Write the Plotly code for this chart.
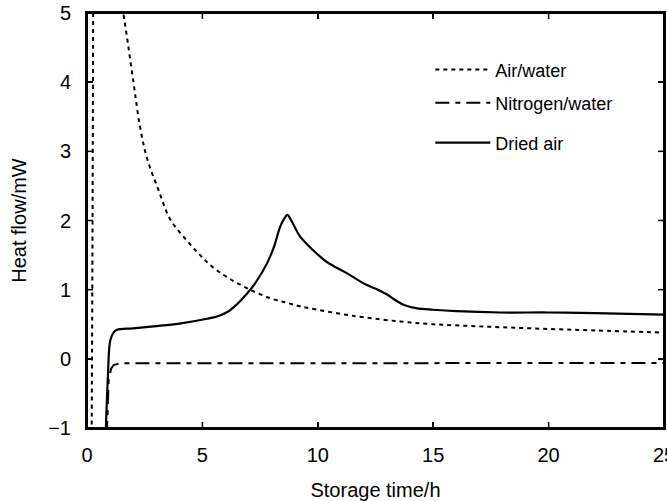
import plotly.graph_objects as go

# Air/water (dotted): vertical spike near t=0, then decaying branch (gap = off-scale)
air_t = [0.20, 0.24, 0.27, None, 1.45, 1.57, 2.0, 2.3, 2.6, 3.1, 3.6, 4.3, 4.9, 5.4, 6.07, 7.06, 8.0, 8.67, 9.23, 10.0, 11.0, 12.0, 13.56, 15.0, 17.0, 19.3, 22.0, 25.0]
air_y = [-1.3, 2.0, 5.6, None, 5.2, 5.0, 4.03, 3.35, 2.9, 2.44, 2.02, 1.72, 1.5, 1.34, 1.18, 1.0, 0.87, 0.81, 0.76, 0.71, 0.65, 0.60, 0.54, 0.50, 0.47, 0.44, 0.41, 0.38]

# Nitrogen/water (dash-dot)
n2_t = [0.86, 0.94, 1.05, 1.15, 1.45, 3.0, 6.0, 10.0, 15.0, 20.0, 25.0]
n2_y = [-1.1, -0.30, -0.14, -0.09, -0.065, -0.065, -0.07, -0.06, -0.065, -0.065, -0.06]

# Dried air (solid)
dry_t = [0.81, 0.90, 1.01, 1.15, 1.30, 2.0, 2.89, 4.0, 5.2, 5.7, 6.1, 6.5, 6.9, 7.3, 7.8, 8.1, 8.36, 8.55, 8.68, 8.85, 9.23, 9.8, 10.39, 11.2, 12.1, 12.6, 13.0, 13.4, 13.8, 14.3, 15.0, 16.0, 17.9, 20.0, 22.0, 25.0]
dry_y = [-1.1, -0.3, 0.27, 0.38, 0.42, 0.44, 0.47, 0.51, 0.58, 0.62, 0.68, 0.79, 0.93, 1.10, 1.38, 1.62, 1.90, 2.03, 2.08, 2.0, 1.77, 1.57, 1.40, 1.25, 1.07, 1.0, 0.93, 0.84, 0.77, 0.73, 0.71, 0.69, 0.67, 0.67, 0.66, 0.64]

x_ticks = [0, 5, 10, 15, 20, 25]
y_ticks = [-1, 0, 1, 2, 3, 4, 5]
x_range = [0, 25]
y_range = [-1, 5]

FONT = "Liberation Sans, Arial, sans-serif"
W, H = 667, 501
ML, MR, MT, MB = 87, 3, 13, 73
TICK_PX = 6

fig = go.Figure()
fig.add_trace(go.Scatter(x=air_t, y=air_y, mode="lines", name="Air/water",
                         line=dict(color="black", width=2, dash="4px,4px"),
                         line_shape="spline", connectgaps=False,
                         legend="legend", showlegend=True))
fig.add_trace(go.Scatter(x=n2_t, y=n2_y, mode="lines", name="Nitrogen/water",
                         line=dict(color="black", width=2, dash="14px,6px,5px,6px"),
                         legend="legend2", showlegend=True))
fig.add_trace(go.Scatter(x=dry_t, y=dry_y, mode="lines", name="Dried air",
                         line=dict(color="black", width=2.2),
                         line_shape="spline", legend="legend3", showlegend=True))

# Frame and inside ticks on all four sides (drawn as layout shapes from the tick lists)
fx = TICK_PX / (W - ML - MR)
fy = TICK_PX / (H - MT - MB)
frame_line = dict(color="black", width=2)
tick_line = dict(color="black", width=1.5)
fig.add_shape(type="rect", xref="paper", yref="paper", x0=0, x1=1, y0=0, y1=1,
              line=frame_line, fillcolor="rgba(0,0,0,0)", opacity=1, layer="above")
for xv in x_ticks:
    fig.add_shape(type="line", xref="x", yref="paper", x0=xv, x1=xv, y0=0, y1=fy,
                  line=tick_line, opacity=1, layer="above")
    fig.add_shape(type="line", xref="x", yref="paper", x0=xv, x1=xv, y0=1 - fy, y1=1,
                  line=tick_line, opacity=1, layer="above")
for yv in y_ticks:
    fig.add_shape(type="line", xref="paper", yref="y", x0=0, x1=fx, y0=yv, y1=yv,
                  line=tick_line, opacity=1, layer="above")
    fig.add_shape(type="line", xref="paper", yref="y", x0=1 - fx, x1=1, y0=yv, y1=yv,
                  line=tick_line, opacity=1, layer="above")

leg_common = dict(font=dict(family=FONT, size=18, color="black"),
                  bgcolor="rgba(0,0,0,0)", xanchor="left", yanchor="middle",
                  itemwidth=55, visible=True)

axis_common = dict(ticks="inside", ticklen=TICK_PX, tickwidth=1.5, tickcolor="black",
                   showline=True, linecolor="black", linewidth=2,
                   showgrid=False, zeroline=False, automargin=False,
                   ticklabeloverflow="allow", mirror="ticks",
                   tickfont=dict(size=20, family=FONT, color="black"))

fig.update_layout(
    template="simple_white",
    width=W, height=H,
    margin=dict(l=ML, r=MR, t=MT, b=MB, autoexpand=False),
    paper_bgcolor="white", plot_bgcolor="white",
    font=dict(family=FONT, color="black"),
    showlegend=True,
    dragmode=False,
    legend=dict(x=0.595, y=0.863, **leg_common),
    legend2=dict(x=0.595, y=0.783, **leg_common),
    legend3=dict(x=0.595, y=0.687, **leg_common),
    xaxis=dict(range=x_range, tickvals=x_ticks, ticklabelstandoff=8,
               title=dict(text="Storage time/h", font=dict(size=20, family=FONT),
                          standoff=20),
               **axis_common),
    yaxis=dict(range=y_range, tickvals=y_ticks, ticklabelstandoff=10,
               title=dict(text="Heat flow/mW", font=dict(size=20, family=FONT),
                          standoff=16),
               **axis_common),
)

fig.write_html(
    "out.html",
    config={"staticPlot": True, "displayModeBar": False},
    post_script="document.body.style.margin='0';document.body.style.overflow='hidden';",
)
